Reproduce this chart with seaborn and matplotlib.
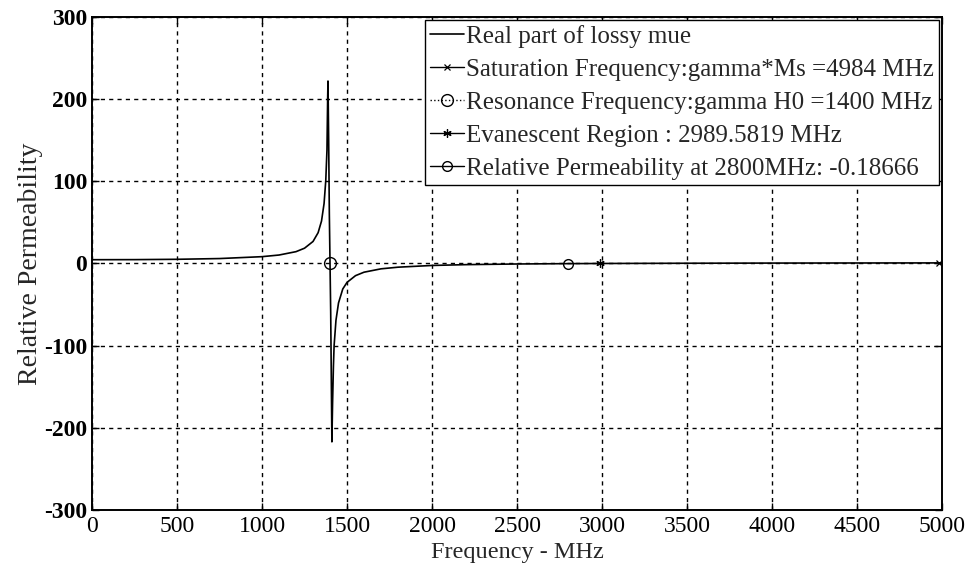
import matplotlib
matplotlib.use("Agg")
import matplotlib.pyplot as plt
import seaborn as sns
import pandas as pd

# Real part of the lossy permeability versus frequency (MHz)
freq_mhz = [0, 250, 500, 750, 1000, 1100, 1200, 1250, 1300, 1330, 1350, 1365,
            1375, 1382, 1386, 1388, 1392, 1396, 1400, 1404, 1408, 1411, 1415,
            1420, 1424, 1435, 1450, 1475, 1500, 1550, 1600, 1700, 1800, 2000,
            2200, 2500, 2800, 3000, 3500, 4000, 4500, 5000]
mu_real = [4.6, 4.7, 5.1, 6.0, 8.3, 10.3, 14.4, 18.6, 26.8, 37.5, 51.7, 73,
           101, 138, 200, 222, 150, 60, 0, -60, -150, -217, -170,
           -125, -100, -69, -48, -31, -23, -14.8, -10.6, -6.5, -4.5, -2.4,
           -1.4, -0.6, -0.19, 0.0, 0.3, 0.5, 0.6, 0.7]

# Characteristic points
sat_freq, sat_mu = 4984, 0
res_freq, res_mu = 1400, 0
evan_freq, evan_mu = 2989.5819, 0
p2800_freq, p2800_mu = 2800, -0.18666

labels = [
    "Real part of lossy mue",
    "Saturation Frequency:gamma*Ms =4984 MHz",
    "Resonance Frequency:gamma H0 =1400 MHz",
    "Evanescent Region : 2989.5819 MHz",
    "Relative Permeability at 2800MHz: -0.18666",
]
x_ticks = [0, 500, 1000, 1500, 2000, 2500, 3000, 3500, 4000, 4500, 5000]
y_ticks = [-300, -200, -100, 0, 100, 200, 300]

sns.set_style("ticks")
plt.rcParams["font.family"] = ["Liberation Serif", "DejaVu Serif"]

fig = plt.figure(figsize=(9.73, 5.65), dpi=100)
ax = fig.add_axes([0.0946, 0.0973, 0.8735, 0.8727])

df = pd.DataFrame({"f": freq_mhz, "mu": mu_real})
sns.lineplot(data=df, x="f", y="mu", ax=ax, color="black", lw=1.2,
             sort=False, estimator=None, label=labels[0])

asterisk = (6, 2, 0)
ax.plot([sat_freq], [sat_mu], color="black", ls="-", lw=1.0, marker="x",
        ms=5, mew=0.9, label=labels[1])
ax.plot([res_freq], [res_mu], color="black", ls=":", lw=1.0, marker="o",
        ms=8.5, mfc="none", mew=1.0, label=labels[2])
ax.plot([evan_freq], [evan_mu], color="black", ls="-", lw=1.0, marker=asterisk,
        ms=6, mew=0.9, label=labels[3])
ax.plot([p2800_freq], [p2800_mu], color="black", ls="-", lw=1.0, marker="o",
        ms=7, mfc="none", mew=1.0, label=labels[4])

ax.set_xlim(0, 5000)
ax.set_ylim(-300, 300)
ax.set_xticks(x_ticks)
ax.set_yticks(y_ticks)
ax.set_xticklabels([str(v) for v in x_ticks], fontsize=17)
ax.set_yticklabels([str(v) for v in y_ticks], fontsize=17, fontweight="bold")
ax.tick_params(direction="in", length=5, width=1, top=True, right=True,
               pad=3.5, colors="black")
ax.tick_params(axis="x", pad=4)

ax.grid(True, color="black", ls=(0, (3, 3)), lw=1.0)
for s in ax.spines.values():
    s.set_color("black")
    s.set_linewidth(1.4)

ax.set_xlabel("Frequency - MHz", fontsize=17.5)
ax.xaxis.set_label_coords(0.5, -0.064)
ax.set_ylabel("Relative Permeability", fontsize=20)
ax.yaxis.set_label_coords(-0.058, 0.5)

leg = ax.legend(loc="upper right", bbox_to_anchor=(1.0, 1.0), borderaxespad=0.12,
                fontsize=18, frameon=True, fancybox=False, handlelength=1.35,
                handletextpad=0.1, labelspacing=0.42, borderpad=0.2)
leg.get_frame().set_edgecolor("black")
leg.get_frame().set_linewidth(1.0)
leg.get_frame().set_alpha(1)

fig.savefig("out.png", dpi=100)
